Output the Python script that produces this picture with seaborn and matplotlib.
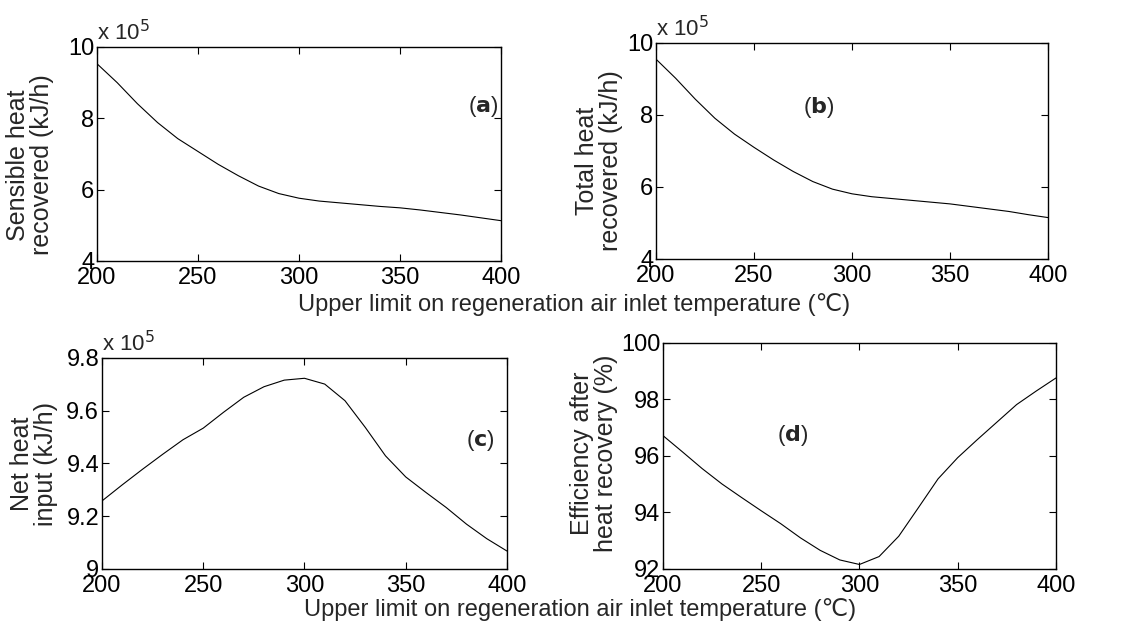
import numpy as np
import pandas as pd
import matplotlib
matplotlib.use("Agg")
import matplotlib.pyplot as plt
from matplotlib.ticker import FuncFormatter
import seaborn as sns

# ---- data ----
temps = [200, 210, 220, 230, 240, 250, 260, 270, 280, 290, 300,
         310, 320, 330, 340, 350, 360, 370, 380, 390, 400]
# values in units of 1e5 kJ/h
sensible_heat = [9.53, 9.00, 8.41, 7.88, 7.43, 7.07, 6.71, 6.39, 6.10, 5.89, 5.76,
                 5.68, 5.63, 5.58, 5.53, 5.49, 5.43, 5.36, 5.29, 5.21, 5.13]
total_heat = [9.55, 9.02, 8.44, 7.91, 7.47, 7.10, 6.75, 6.43, 6.15, 5.94, 5.81,
              5.73, 5.68, 5.63, 5.58, 5.53, 5.46, 5.39, 5.32, 5.23, 5.15]
net_heat = [9.258, 9.319, 9.378, 9.435, 9.490, 9.534, 9.594, 9.651, 9.691, 9.716, 9.723,
            9.701, 9.638, 9.537, 9.429, 9.349, 9.290, 9.233, 9.170, 9.115, 9.068]
efficiency = [96.72, 96.14, 95.55, 95.01, 94.53, 94.06, 93.60, 93.10, 92.66, 92.32, 92.16,
              92.44, 93.16, 94.17, 95.19, 95.94, 96.58, 97.20, 97.82, 98.30, 98.76]

xticks = [200, 250, 300, 350, 400]
yticks_ab = [4, 6, 8, 10]
yticks_c = [9.0, 9.2, 9.4, 9.6, 9.8]
yticks_d = [92, 94, 96, 98, 100]
scale = 1e5

xlabel = "Upper limit on regeneration air inlet temperature (\u2103)"
ylabels = ["Sensible heat\nrecovered (kJ/h)", "Total heat\nrecovered (kJ/h)",
           "Net heat\ninput (kJ/h)", "Efficiency after\nheat recovery (%)"]
panel_letters = ["a", "b", "c", "d"]

sns.set_style("ticks")
plt.rcParams["font.family"] = ["Liberation Sans", "DejaVu Sans"]
plt.rcParams["mathtext.fontset"] = "dejavusans"

FS = 17
fig = plt.figure(figsize=(11.37, 6.23), dpi=100)

positions = [
    [0.0853, 0.5811, 0.3553, 0.3435],
    [0.5770, 0.5843, 0.3448, 0.3467],
    [0.0897, 0.0867, 0.3562, 0.3387],
    [0.5831, 0.0867, 0.3456, 0.3628],
]
series = [
    np.array(sensible_heat) * scale,
    np.array(total_heat) * scale,
    np.array(net_heat) * scale,
    np.array(efficiency),
]
ylims = [(4 * scale, 10 * scale), (4 * scale, 10 * scale), (9.0 * scale, 9.8 * scale), (92, 100)]
ytick_sets = [[v * scale for v in yticks_ab], [v * scale for v in yticks_ab],
              [v * scale for v in yticks_c], yticks_d]
scaled = [True, True, True, False]
label_pos = [(0.955, 0.72), (0.416, 0.70), (0.935, 0.61), (0.33, 0.59)]
ylabel_pos = [(-0.166, 0.449), (-0.145, 0.454), (-0.168, 0.498), (-0.176, 0.513)]

for i in range(4):
    ax = fig.add_axes(positions[i])
    df = pd.DataFrame({"T": temps, "v": series[i]})
    sns.lineplot(data=df, x="T", y="v", ax=ax, color="black", linewidth=0.8)
    ax.set_xlim(200, 400)
    ax.set_ylim(*ylims[i])
    ax.set_xticks(xticks)
    ax.set_yticks(ytick_sets[i])
    if scaled[i]:
        ax.yaxis.set_major_formatter(FuncFormatter(lambda v, p: f"{v / 1e5:g}"))
        ax.text(0.0, 1.01, r"x 10$^5$", transform=ax.transAxes, ha="left", va="bottom",
                fontsize=16)
    else:
        ax.yaxis.set_major_formatter(FuncFormatter(lambda v, p: f"{v:g}"))
    ax.tick_params(direction="in", top=True, right=True, length=5, width=0.8,
                   labelsize=FS, colors="black")
    ax.tick_params(axis="y", pad=2)
    ax.tick_params(axis="x", pad=4)
    for s in ax.spines.values():
        s.set_color("black")
        s.set_linewidth(1.0)
    ax.set_xlabel("")
    ax.set_ylabel("")
    ax.text(ylabel_pos[i][0], ylabel_pos[i][1], ylabels[i], transform=ax.transAxes,
            rotation=90, ha="center", va="center", multialignment="center",
            fontsize=18, linespacing=1.0)
    ax.text(label_pos[i][0], label_pos[i][1],
            "(" + r"$\mathbf{" + panel_letters[i] + "}$" + ")",
            transform=ax.transAxes, ha="center", va="center", fontsize=16)

fig.text(0.505, 0.5104, xlabel, ha="center", va="center", fontsize=FS)
fig.text(0.510, 0.0209, xlabel, ha="center", va="center", fontsize=FS)

fig.savefig("out.png", dpi=100)
